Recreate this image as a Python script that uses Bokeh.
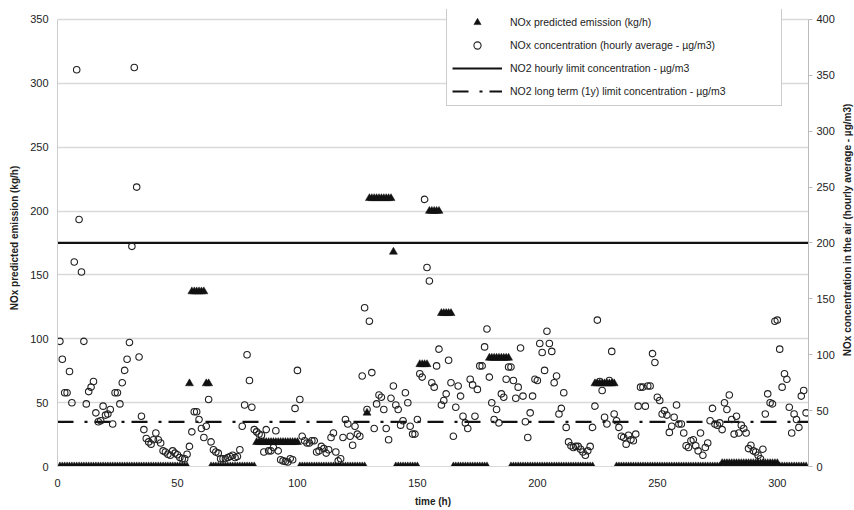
from bokeh.plotting import figure
from bokeh.layouts import row
from bokeh.models import (Range1d, LinearAxis, SingleIntervalTicker, Legend,
                          LegendItem, Label)
from bokeh.embed import file_html
from bokeh.resources import INLINE

# ---------------- data ----------------
hours = list(range(1, 313))

# NOx predicted emission (kg/h): runs of (first hour, last hour, value)
emission_runs = [
    (1, 54, 0), (55, 55, 65), (56, 61, 137), (62, 63, 65), (64, 82, 0),
    (83, 100, 19), (101, 128, 0), (129, 129, 42), (130, 139, 210),
    (140, 140, 168), (141, 150, 0), (151, 154, 80), (155, 159, 200),
    (160, 164, 120), (165, 179, 0), (180, 188, 85), (189, 223, 0),
    (224, 232, 65), (233, 276, 0), (277, 300, 2.5), (301, 312, 0),
]
emission = []
for first, last, val in emission_runs:
    emission += [val] * (last - first + 1)

# NOx concentration (hourly average, ug/m3) - right axis
concentration = [
    112, 96, 66, 66, 85, 57, 183, 355, 221, 174,
    112, 56, 67, 71, 76, 48, 40, 41, 54, 46,
    47, 51, 38, 66, 66, 56, 75, 86, 96, 111,
    197, 357, 250, 98, 45, 33, 25, 22, 20, 24,
    30, 24, 21, 14, 13, 11, 10, 14, 12, 10.5,
    8, 7, 7, 11, 18, 31, 49, 49, 42, 34,
    26, 36, 60, 22, 15, 13, 12, 7, 7, 7,
    8, 9, 10, 8, 9, 15, 36, 55, 100, 77,
    53, 33, 31, 29, 28, 13, 33, 14, 14, 17,
    32, 14, 6, 5, 4.5, 4, 7, 6, 52, 86,
    60, 27, 23, 21, 21, 23, 23, 13, 14, 18,
    16, 12, 15, 26, 30, 13, 5, 7, 26, 42,
    38, 27, 19, 36, 29, 27, 81, 142, 51, 130,
    84, 34, 56, 64, 62, 51, 34, 24, 61, 72,
    55, 51, 37, 41, 66, 57, 36, 29, 29, 42,
    83, 80, 239, 178, 166, 75, 71, 90, 105, 55,
    59, 65, 95, 75, 27, 53, 72, 63, 45, 39,
    34, 78, 73, 45, 69, 90, 90, 107, 123, 80,
    57, 42, 51, 39, 65, 62, 78, 89, 89, 77,
    61, 71, 106, 63, 40, 26, 48, 63, 78, 77,
    110, 102, 86, 121, 110, 103, 75, 81, 47, 52,
    66, 35, 22, 18.5, 17, 18, 18, 15.5, 13, 10,
    14, 18, 35, 54, 131, 76, 68, 44, 38, 77,
    103, 47, 41, 35, 27, 26, 20, 28, 24, 23,
    29, 54, 71, 71, 54, 72, 72, 101, 93, 62,
    59, 47, 50, 46, 30.5, 36, 44, 55, 38, 38,
    30, 18.5, 17, 23, 24, 18.5, 14, 30, 10, 17,
    21, 41, 52, 38, 37, 39, 33, 57, 51, 64,
    42, 29, 45, 30, 37, 34, 30, 16, 19, 14,
    13, 10, 7, 15.5, 47, 65, 57, 56, 130, 131,
    105, 71, 83, 78, 53, 30, 47, 42, 35, 63,
    68, 48,
]

HOURLY_LIMIT = 200   # ug/m3
ANNUAL_LIMIT = 40    # ug/m3
X_START, X_END = 0, 313
LEFT_MAX, RIGHT_MAX = 350, 400
# a little head-room above the top tick so the legend box can sit above it
LEFT_TOP, RIGHT_TOP = 357.8, 408.9

labels = [
    "NOx predicted emission (kg/h)",
    "NOx concentration (hourly average - \u00b5g/m3)",
    "NO2 hourly limit concentration - \u00b5g/m3",
    "NO2 long term (1y) limit concentration - \u00b5g/m3",
]
x_title = "time (h)"
left_title = "NOx predicted emission (kg/h)"
right_title = "NOx concentration in the air (hourly average - \u00b5g/m3)"

FONT = "Liberation Sans"
TXT = "#222222"

# ---------------- main figure ----------------
p = figure(width=838, height=510, output_backend="svg", toolbar_location=None,
           x_range=Range1d(X_START, X_END), y_range=Range1d(0, LEFT_TOP),
           min_border_left=57, min_border_right=30, min_border_top=9,
           min_border_bottom=44)
p.extra_y_ranges = {"conc": Range1d(0, RIGHT_TOP)}
p.outline_line_color = None
p.background_fill_color = "white"
p.border_fill_color = "white"

# grid
p.xgrid.visible = False
p.ygrid.grid_line_color = "#d9d9d9"
p.ygrid.grid_line_width = 1.5
p.ygrid.ticker = SingleIntervalTicker(interval=50, num_minor_ticks=0)

# bottom axis
xa = p.xaxis[0]
xa.ticker = SingleIntervalTicker(interval=50, num_minor_ticks=0)
xa.axis_label = x_title
xa.axis_line_color = "#d9d9d9"
xa.major_tick_line_color = None
xa.minor_tick_line_color = None
xa.major_tick_out = 0
xa.major_tick_in = 0
xa.minor_tick_out = 0
xa.major_label_standoff = 12
xa.axis_label_standoff = 6
xa.major_label_text_font = FONT
xa.major_label_text_font_size = "11px"
xa.major_label_text_color = TXT
xa.axis_label_text_font = FONT
xa.axis_label_text_font_size = "10px"
xa.axis_label_text_font_style = "bold"
xa.axis_label_text_color = TXT

# left axis
ya = p.yaxis[0]
ya.ticker = SingleIntervalTicker(interval=50, num_minor_ticks=0)
ya.bounds = (0, LEFT_MAX)
ya.axis_label = left_title
ya.axis_line_color = "#cccccc"
ya.major_tick_line_color = None
ya.minor_tick_line_color = None
ya.major_tick_out = 0
ya.major_tick_in = 0
ya.minor_tick_out = 0
ya.major_label_standoff = 9
ya.axis_label_standoff = 7
ya.major_label_text_font = FONT
ya.major_label_text_font_size = "11px"
ya.major_label_text_color = TXT
ya.axis_label_text_font = FONT
ya.axis_label_text_font_size = "10px"
ya.axis_label_text_font_style = "bold"
ya.axis_label_text_color = TXT

# right axis (ticks and numbers)
ra = LinearAxis(y_range_name="conc",
                ticker=SingleIntervalTicker(interval=50, num_minor_ticks=0))
ra.bounds = (0, RIGHT_MAX)
ra.axis_line_color = "#bbbbbb"
ra.major_tick_line_color = "#bbbbbb"
ra.major_tick_out = 4
ra.major_tick_in = 0
ra.minor_tick_line_color = None
ra.minor_tick_out = 0
ra.major_label_standoff = 4
ra.major_label_text_font = FONT
ra.major_label_text_font_size = "11px"
ra.major_label_text_color = TXT
p.add_layout(ra, "right")

# ---------------- glyphs ----------------
r_hour = p.line(x=[X_START, X_END], y=[HOURLY_LIMIT, HOURLY_LIMIT], y_range_name="conc",
                line_color="#111111", line_width=2.2)
r_year = p.line(x=[X_START, X_END], y=[ANNUAL_LIMIT, ANNUAL_LIMIT], y_range_name="conc",
                line_color="#111111", line_width=2.2, line_dash="16 11 3 7")
r_conc = p.scatter(x=hours, y=concentration, y_range_name="conc", marker="circle",
                   size=6.5, fill_color=None, line_color="#222222", line_width=1.1)
r_emis = p.scatter(x=hours, y=emission, marker="triangle", size=8,
                   fill_color="#111111", line_color="#111111", line_width=0.5)

legend = Legend(items=[
    LegendItem(label=labels[0], renderers=[r_emis]),
    LegendItem(label=labels[1], renderers=[r_conc]),
    LegendItem(label=labels[2], renderers=[r_hour]),
    LegendItem(label=labels[3], renderers=[r_year]),
], location=(389, 360))
legend.label_text_font = FONT
legend.label_text_font_size = "10.5px"
legend.label_text_color = TXT
legend.border_line_color = "#999999"
legend.border_line_width = 1
legend.background_fill_color = "white"
legend.background_fill_alpha = 1
legend.padding = 5
legend.spacing = 5
legend.label_height = 18
legend.glyph_height = 18
legend.glyph_width = 50
legend.label_standoff = 8
legend.label_width = 266
legend.margin = 0
p.add_layout(legend)

# ---------------- narrow strip holding the right-hand title ----------------
strip_h = 510
t = figure(width=16, height=strip_h, output_backend="svg", toolbar_location=None,
           x_range=Range1d(0, 1), y_range=Range1d(0, strip_h),
           min_border=0, min_border_left=0, min_border_right=0,
           min_border_top=0, min_border_bottom=0)
t.outline_line_color = None
t.axis.visible = False
t.grid.visible = False
t.border_fill_color = "white"
t.background_fill_color = "white"
t.add_layout(Label(x=0.55, y=strip_h - 246, text=right_title, angle=90, angle_units="deg",
                   text_align="center", text_baseline="middle",
                   text_font=FONT, text_font_size="10px", text_font_style="bold",
                   text_color=TXT))

layout = row(p, t, spacing=0)
open("out.html", "w").write(file_html(layout, INLINE))
